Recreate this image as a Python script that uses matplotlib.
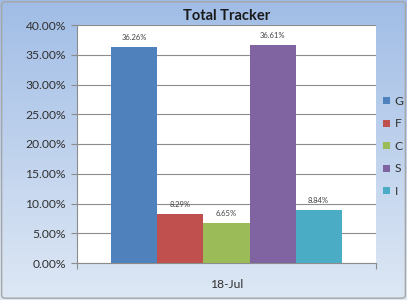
import matplotlib.pyplot as plt
import numpy as np
from matplotlib.patches import FancyBboxPatch

categories = ['G', 'F', 'C', 'S', 'I']
values = [36.26, 8.29, 6.65, 36.61, 8.84]
colors = ['#4f81bd', '#c0504d', '#9bbb59', '#8064a2', '#4bacc6']
group = '18-Jul'
yticks = [0, 5, 10, 15, 20, 25, 30, 35, 40]

plt.rcParams['font.family'] = ['Lato', 'DejaVu Sans']

fig = plt.figure(figsize=(4.07, 3.0), dpi=100)

# gradient background
bg = fig.add_axes([0, 0, 1, 1], zorder=0)
grad = np.linspace(0, 1, 256).reshape(-1, 1)
top = np.array([0.63, 0.74, 0.90])
bot = np.array([0.87, 0.91, 0.96])
img = top + (bot - top) * grad[:, :, None]
bg.imshow(img, aspect='auto', extent=[0, 1, 0, 1])
bg.add_patch(FancyBboxPatch((0.004, 0.006), 0.992, 0.988,
                            boxstyle='round,pad=0,rounding_size=0.01',
                            fc='none', ec='#a6a6a6', lw=1.0,
                            transform=bg.transAxes))
bg.set_xlim(0, 1)
bg.set_ylim(0, 1)
bg.axis('off')

ax = fig.add_axes([77/407, 1 - 263/300, 299/407, 238/300], zorder=1)
ax.set_facecolor('white')

n = len(categories)
w = 0.154
offsets = (np.arange(n) - (n - 1) / 2) * w
bars = []
for off, v, c, lab in zip(offsets, values, colors, categories):
    b = ax.bar(off, v, width=w, color=c, label=lab, zorder=3)
    bars.append(b)
    ax.text(off, v + 1.0, f'{v:.2f}%', ha='center', va='bottom',
            fontsize=5.5, color='#404040', zorder=4)

ax.set_xlim(-0.5, 0.5)
ax.set_ylim(0, 40)
ax.set_yticks(yticks)
ax.set_yticklabels([f'{t:.2f}%' for t in yticks], fontsize=8.7, color='#303030')
ax.yaxis.grid(True, color='#8c8c8c', lw=0.8, zorder=0)
ax.set_xticks([-0.5, 0.5])
ax.set_xticklabels(['', ''])
ax.tick_params(axis='x', length=4, color='#8c8c8c')
ax.tick_params(axis='y', length=4, color='#8c8c8c', pad=4)
ax.set_xlabel(group, fontsize=8.7, color='#303030', labelpad=4)
for s in ['top', 'right']:
    ax.spines[s].set_visible(False)
for s in ['left', 'bottom']:
    ax.spines[s].set_color('#8c8c8c')
    ax.spines[s].set_linewidth(0.8)

fig.text(227/407, 1 - 16/300, 'Total Tracker', ha='center', va='center',
         fontsize=10.5, fontweight='bold', color='#1a1a1a')

leg = fig.legend(handles=[b[0] for b in bars], labels=categories,
                 loc='upper left', bbox_to_anchor=(383/407, 1 - 96/300),
                 frameon=False, fontsize=8.7, handlelength=0.55, handleheight=0.55,
                 handletextpad=0.4, labelspacing=0.95, borderpad=0,
                 borderaxespad=0, labelcolor='#303030')

fig.savefig('out.png', dpi=100)
